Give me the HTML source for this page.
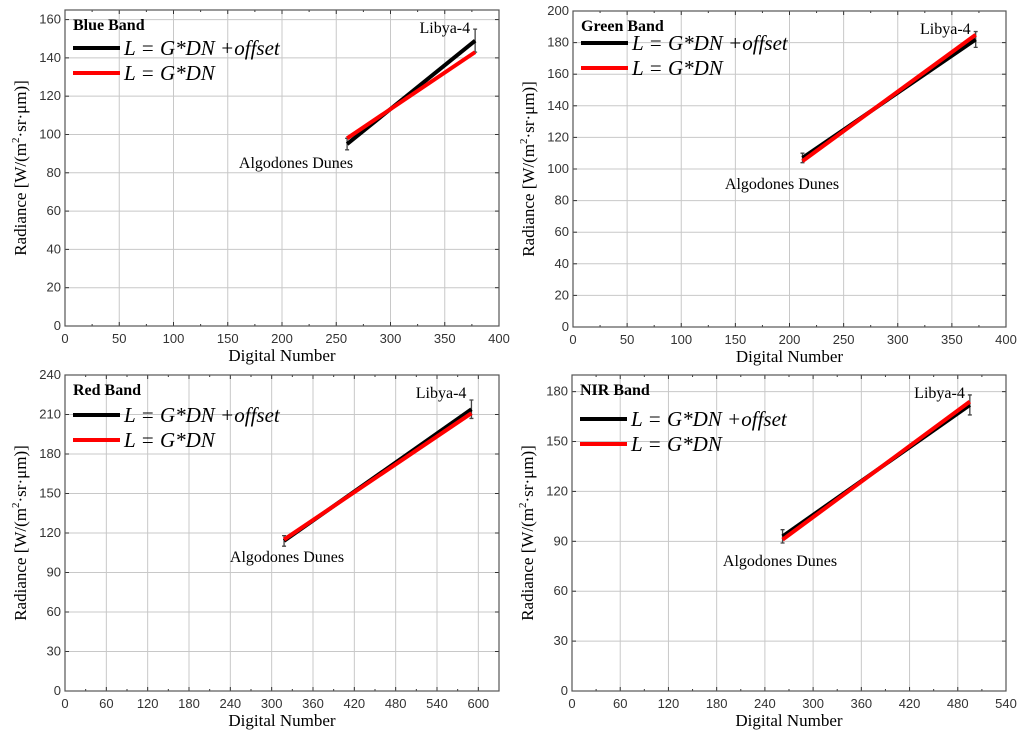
<!DOCTYPE html>
<html><head><meta charset="utf-8"><style>
body{margin:0;background:#fff;width:1024px;height:739px;overflow:hidden}
svg{font-family:"Liberation Serif",serif}
</style></head><body>
<svg id="c" width="1024" height="739"></svg>
<script>
// Blue band
const blueDN=[260,378], blueOffset=[95,149], blueGain=[98,143], blueErr=[3,6];
const blueXTicks=[0,50,100,150,200,250,300,350,400], blueYTicks=[0,20,40,60,80,100,120,140,160];
// Green band
const greenDN=[212,372], greenOffset=[107,182], greenGain=[105,185], greenErr=[3,5];
const greenXTicks=[0,50,100,150,200,250,300,350,400], greenYTicks=[0,20,40,60,80,100,120,140,160,180,200];
// Red band
const redDN=[318,590], redOffset=[114,214], redGain=[115,211], redErr=[4,7];
const redXTicks=[0,60,120,180,240,300,360,420,480,540,600], redYTicks=[0,30,60,90,120,150,180,210,240];
// NIR band
const nirDN=[262,495], nirOffset=[93,172], nirGain=[91,174], nirErr=[4,6];
const nirXTicks=[0,60,120,180,240,300,360,420,480,540], nirYTicks=[0,30,60,90,120,150,180];

const panels=[
 {name:'blue',title:'Blue Band',x0:65,x1:499,y0:326,y1:10,xmax:400,ymax:165,dn:blueDN,off:blueOffset,gain:blueGain,err:blueErr,xt:blueXTicks,yt:blueYTicks,minor:25,adx:296,ady:168,leg:48},
 {name:'green',title:'Green Band',x0:573,x1:1006,y0:327,y1:11,xmax:400,ymax:200,dn:greenDN,off:greenOffset,gain:greenGain,err:greenErr,xt:greenXTicks,yt:greenYTicks,minor:25,adx:782,ady:189,leg:43},
 {name:'red',title:'Red Band',x0:65,x1:499,y0:691,y1:375,xmax:630,ymax:240,dn:redDN,off:redOffset,gain:redGain,err:redErr,xt:redXTicks,yt:redYTicks,minor:30,adx:287,ady:562,leg:415},
 {name:'nir',title:'NIR Band',x0:572,x1:1006,y0:691,y1:375,xmax:540,ymax:190,dn:nirDN,off:nirOffset,gain:nirGain,err:nirErr,xt:nirXTicks,yt:nirYTicks,minor:30,adx:780,ady:566,leg:419}
];
const svg=document.getElementById('c');
const NS='http://www.w3.org/2000/svg';
function mk(tag,attrs,parent,text){const e=document.createElementNS(NS,tag);for(const k in attrs)e.setAttribute(k,attrs[k]);if(text!==undefined)e.textContent=text;parent.appendChild(e);return e;}
panels.forEach(p=>{
 const g=mk('g',{},svg);
 
 
 const X=v=>p.x0+(p.x1-p.x0)*v/p.xmax;
 const Y=v=>p.y0-(p.y0-p.y1)*v/p.ymax;
 p.xt.forEach(t=>{
  const l=mk('line',{x1:X(t),x2:X(t),y1:p.y0,y2:p.y1,stroke:'#c8c8c8','stroke-width':1},g);
  
  
  const tx=mk('text',{x:X(t),y:p.y0+17,'font-size':13,'text-anchor':'middle',fill:'#333','font-family':'Liberation Sans, sans-serif'},g,t);
  
  
  mk('line',{x1:X(t),x2:X(t),y1:p.y0,y2:p.y0-4,stroke:'#333'},g);
  mk('line',{x1:X(t),x2:X(t),y1:p.y1,y2:p.y1+4,stroke:'#333'},g);
  if(t+p.minor<=p.xmax){mk('line',{x1:X(t+p.minor),x2:X(t+p.minor),y1:p.y0,y2:p.y0-2,stroke:'#333'},g);mk('line',{x1:X(t+p.minor),x2:X(t+p.minor),y1:p.y1,y2:p.y1+2,stroke:'#333'},g);}
 });
 p.yt.forEach(t=>{
  const l=mk('line',{x1:p.x0,x2:p.x1,y1:Y(t),y2:Y(t),stroke:'#c8c8c8','stroke-width':1},g);
  
  
  const tx=mk('text',{x:p.x0-4,y:Y(t)+4,'font-size':13,'text-anchor':'end',fill:'#333','font-family':'Liberation Sans, sans-serif'},g,t);
  
  
  mk('line',{x1:p.x0,x2:p.x0+4,y1:Y(t),y2:Y(t),stroke:'#333'},g);
  mk('line',{x1:p.x1,x2:p.x1-4,y1:Y(t),y2:Y(t),stroke:'#333'},g);
 });
 const fr=mk('rect',{x:p.x0,y:p.y1,width:p.x1-p.x0,height:p.y0-p.y1,fill:'none',stroke:'#555','stroke-width':1.2},g);
 
 
 [0,1].forEach(i=>{
  const x=X(p.dn[i]),ya=Y(p.off[i]-p.err[i]),yb=Y(p.off[i]+p.err[i]);
  const e=mk('path',{d:`M${x},${ya}V${yb}M${x-2},${ya}H${x+2}M${x-2},${yb}H${x+2}`,stroke:'#444','stroke-width':1.3,fill:'none'},g);
  
  
 });
 const lb=mk('line',{x1:X(p.dn[0]),y1:Y(p.off[0]),x2:X(p.dn[1]),y2:Y(p.off[1]),stroke:'#000','stroke-width':4},g);
 
 
 const lr=mk('line',{x1:X(p.dn[0]),y1:Y(p.gain[0]),x2:X(p.dn[1]),y2:Y(p.gain[1]),stroke:'#f00','stroke-width':4},g);
 
 
 const ad=mk('text',{x:p.adx,y:p.ady,'font-size':16,'text-anchor':'middle'},g,'Algodones Dunes');
 
 
 const lib=mk('text',{x:X(p.dn[1])-5,y:p.y1+23,'font-size':16,'text-anchor':'end'},g,'Libya-4');
 
 
 const tt=mk('text',{x:p.x0+8,y:p.y1+20,'font-size':16,'font-weight':'bold'},g,p.title);
 
 
 const l1y=p.leg;
 mk('line',{x1:p.x0+8,x2:p.x0+55,y1:l1y,y2:l1y,stroke:'#000','stroke-width':4},g);
 mk('line',{x1:p.x0+8,x2:p.x0+55,y1:l1y+25,y2:l1y+25,stroke:'#f00','stroke-width':4},g);
 const t1=mk('text',{x:p.x0+59,y:l1y+7,'font-size':21,'font-style':'italic'},g,'L = G*DN +offset');
 
 
 const t2=mk('text',{x:p.x0+59,y:l1y+32,'font-size':21,'font-style':'italic'},g,'L = G*DN');
 
 
 const xa=mk('text',{x:(p.x0+p.x1)/2,y:p.y0+35,'font-size':17,'text-anchor':'middle'},g,'Digital Number');
 
 
 const cy=(p.y0+p.y1)/2, cx=p.x0-39;
 const ya=mk('text',{x:cx,y:cy,'font-size':17,'text-anchor':'middle',transform:`rotate(-90 ${cx} ${cy})`},g);
 
 
 ya.innerHTML='Radiance [W/(m<tspan dy="-7" font-size="11">2</tspan><tspan dy="7">·sr·μm)]</tspan>';
});
</script>
</body></html>
